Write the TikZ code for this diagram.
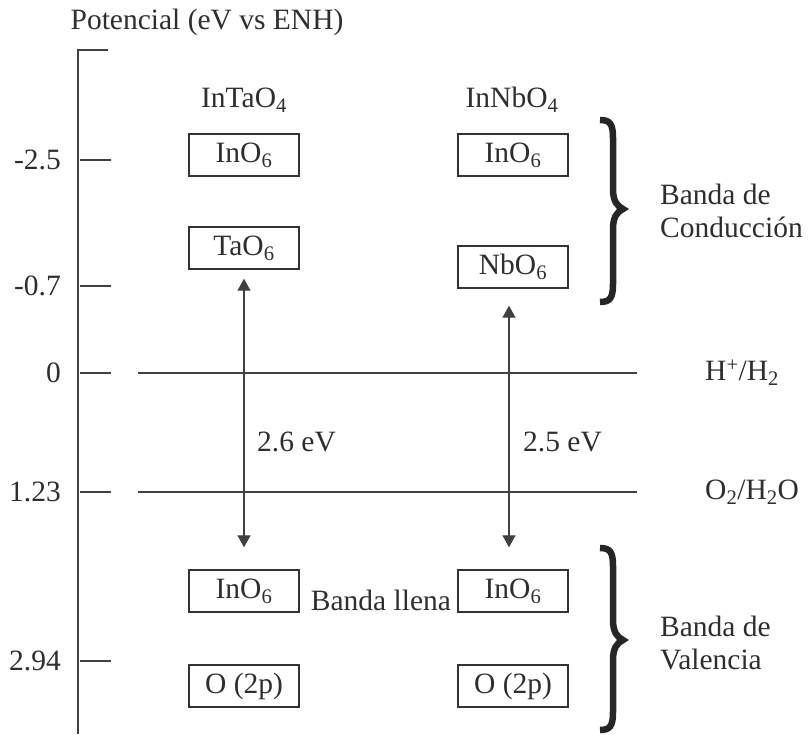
\documentclass[tikz,border=0pt]{standalone}
\usepackage{fontspec}
\setmainfont{Liberation Serif}
\usetikzlibrary{arrows.meta}
\begin{document}
\begin{tikzpicture}[x=1pt,y=-1pt,
  lbl/.style={font=\fontsize{29.5}{33}\selectfont, text=black!82, inner sep=0pt},
  level/.style={lbl, draw=black!80, line width=1.4pt, minimum width=110pt, minimum height=42pt},
  axisline/.style={draw=black!75, line width=1.3pt},
  gap/.style={axisline, {Triangle[width=13pt,length=12pt]}-{Triangle[width=13pt,length=12pt]}},
  bandbrace/.style={draw=black!85, line width=6.5pt, line cap=butt},
]
\useasboundingbox (0,0) rectangle (808,734);

% title of the potential axis
\node[lbl] (title) at (207,22) {Potencial (eV vs ENH)};

% potential axis with its ticks
\coordinate (axtop) at (78,50);
\coordinate (axbot) at (78,734);
\coordinate (axcap) at (108,50);
\draw[axisline] (axcap) -- (axtop) -- (axbot);
\foreach \y/\v/\n in {160/-2.5/a, 286/-0.7/b, 373/0/c, 492/1.23/d, 661/2.94/e} {
  \coordinate (tk\n) at (80,\y);
  \coordinate (tke\n) at (111,\y);
  \draw[axisline] (tk\n) -- (tke\n);
  \node[lbl, anchor=east] (val\n) at (61,\y) {\v};
}

% redox levels of water
\coordinate (hl) at (138,373);
\coordinate (hr) at (637,373);
\coordinate (ol) at (138,492);
\coordinate (or) at (637,492);
\draw[axisline] (hl) -- (hr);
\draw[axisline] (ol) -- (or);
\node[lbl, anchor=west] (hh) at (705,373) {H\textsuperscript{+}/H\textsubscript{2}};
\node[lbl, anchor=west] (oo) at (705,492) {O\textsubscript{2}/H\textsubscript{2}O};

% compounds
\node[lbl] (intao) at (244,100) {InTaO\textsubscript{4}};
\node[lbl] (innbo) at (512,100) {InNbO\textsubscript{4}};

% orbital levels
\node[level] (tin)  at (244,155) {InO\textsubscript{6}};
\node[level] (tta)  at (244,248) {TaO\textsubscript{6}};
\node[level] (lin)  at (244,591) {InO\textsubscript{6}};
\node[level] (lo)   at (244,686) {O (2p)};
\node[level] (nin)  at (513,155) {InO\textsubscript{6}};
\node[level] (nnb)  at (513,267) {NbO\textsubscript{6}};
\node[level] (rin)  at (513,591) {InO\textsubscript{6}};
\node[level] (ro)   at (513,686) {O (2p)};

\node[lbl] (llena) at (381,600) {Banda llena};

% band gaps
\draw[gap] ([yshift=-9pt]tta.south) -- ([yshift=22pt]lin.north);
\draw[gap] ([xshift=-4pt,yshift=-17pt]nnb.south) -- ([xshift=-4pt,yshift=22pt]rin.north);
\node[lbl, anchor=west] (g1) at (257,442) {2.6 eV};
\node[lbl, anchor=west] (g2) at (523,442) {2.5 eV};

% band braces: top, middle and bottom of each
\foreach \t/\m/\b in {120/209/302, 548/640/730} {
  \draw[bandbrace]
    (600,\t) .. controls (610,\t) and (613,\t+4) .. (613,\t+18)
    -- (613,\m-20) .. controls (613,\m-8) and (617,\m-3) .. (623,\m)
    .. controls (617,\m+3) and (613,\m+8) .. (613,\m+20)
    -- (613,\b-18) .. controls (613,\b-4) and (610,\b) .. (600,\b);
}
\node[lbl, anchor=west, align=left] (cb) at (660,211) {Banda de\\Conducción};
\node[lbl, anchor=west, align=left] (vb) at (660,643) {Banda de\\Valencia};
\end{tikzpicture}
\end{document}
